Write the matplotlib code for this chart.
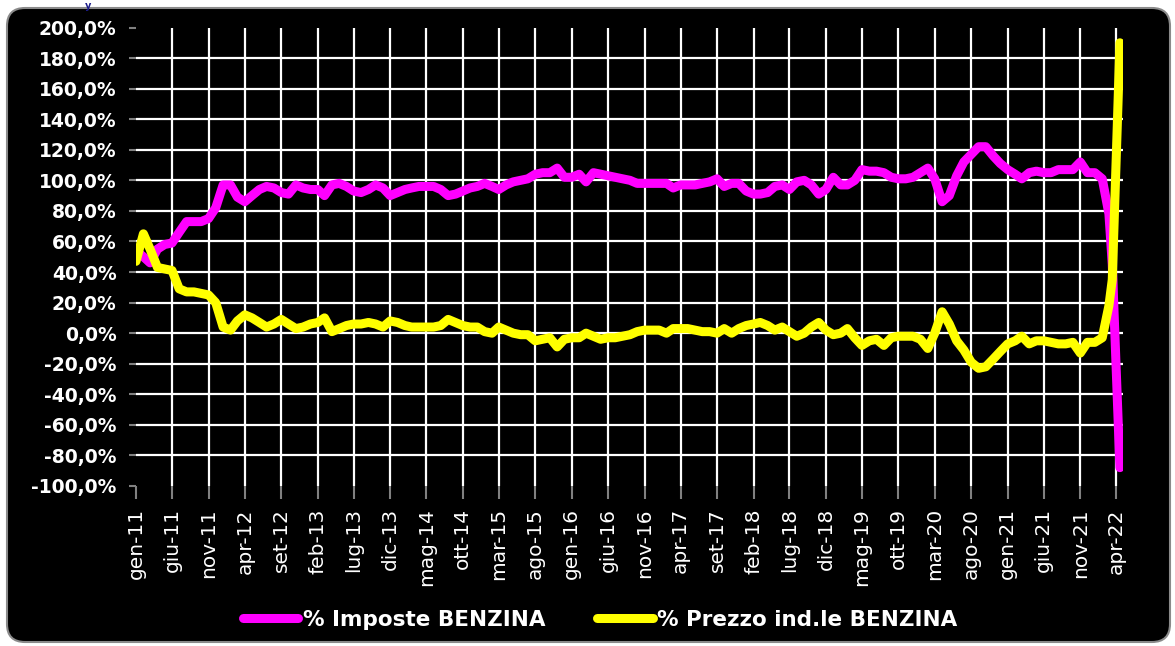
import numpy as np
import pandas as pd
import matplotlib
matplotlib.use('Agg')
import matplotlib.pyplot as plt
from matplotlib.patches import FancyBboxPatch

# --- dati (mensili gen-11 .. mar-22, poi settimane finali) ---
date_mensili = pd.date_range('2011-01-01', '2022-03-01', freq='MS')
date_finali = pd.to_datetime(['2022-03-15', '2022-04-01', '2022-04-08', '2022-04-16'])

imposte = [
    54, 50, 46, 55, 58, 59, 66, 73, 73, 73,
    75, 82, 97, 97, 89, 86, 90, 94, 96, 95,
    92, 91, 97, 95, 94, 94, 90, 97, 98, 96,
    93, 92, 94, 97, 95, 90, 92, 94, 95, 96,
    96, 96, 94, 90, 91, 93, 95, 96, 98, 96,
    94, 97, 99, 100, 101, 104, 105, 105, 108, 102,
    102, 104, 99, 105, 104, 103, 102, 101, 100, 98,
    98, 98, 98, 98, 95, 97, 97, 97, 98, 99,
    101, 96, 98, 98, 93, 91, 91, 92, 96, 97,
    94, 99, 100, 97, 91, 94, 102, 97, 97, 100,
    107, 106, 106, 105, 102, 101, 101, 102, 105, 108,
    101, 86, 90, 103, 112, 117, 122, 122, 116, 111,
    107, 104, 101, 105, 106, 105, 105, 107, 107, 107,
    112, 105, 105, 101, 78,
]
imposte_finali = [45, -25, -55, -88]

prezzo = [
    47, 65, 55, 43, 42, 41, 29, 27, 27, 26,
    25, 20, 4, 2, 8, 12, 10, 7, 4, 6,
    9, 6, 3, 4, 6, 7, 10, 1, 3, 5,
    6, 6, 7, 6, 4, 8, 7, 5, 4, 4,
    4, 4, 5, 9, 7, 5, 4, 4, 1, 0,
    4, 2, 0, -1, -1, -5, -4, -3, -9, -4,
    -3, -3, 0, -2, -4, -3, -3, -2, -1, 1,
    2, 2, 2, 0, 3, 3, 3, 2, 1, 1,
    0, 3, 0, 3, 5, 6, 7, 5, 2, 4,
    1, -2, 0, 4, 7, 2, -1, 0, 3, -3,
    -8, -5, -4, -8, -3, -2, -2, -2, -4, -10,
    0, 14, 6, -5, -11, -19, -23, -22, -17, -12,
    -7, -5, -2, -7, -5, -5, -6, -7, -7, -6,
    -13, -6, -6, -3, 18,
]
prezzo_finali = [35, 115, 150, 190]

mesi = ['gen', 'feb', 'mar', 'apr', 'mag', 'giu', 'lug', 'ago', 'set', 'ott', 'nov', 'dic']
tick_date = pd.date_range('2011-01-01', '2022-04-01', freq='5MS')
tick_labels = [f'{mesi[d.month - 1]}-{d.year % 100:02d}' for d in tick_date]
y_ticks = np.arange(-100, 201, 20)

x = list(date_mensili) + list(date_finali)
y_imp = imposte + imposte_finali
y_prz = prezzo + prezzo_finali

# --- figura ---
fig = plt.figure(figsize=(11.75, 6.46), dpi=100, facecolor='white')
box = FancyBboxPatch((0.07, 0.04), 11.63, 6.34,
                     boxstyle='round,pad=0,rounding_size=0.18',
                     transform=fig.dpi_scale_trans, facecolor='black',
                     edgecolor='#8a8a8a', linewidth=1.5, zorder=-1)
fig.patches.append(box)
# frammento del titolo in alto
fig.text(88 / 1175, 0.999, 'y', color='#1c1c8a', fontsize=7, fontweight='bold',
         ha='center', va='top')

ax = fig.add_axes([136 / 1175, 1 - 486 / 646, (1123 - 136) / 1175, (486 - 27.5) / 646])
ax.set_facecolor('black')

ax.plot(x, y_imp, color='#ff00ff', lw=6.5, solid_capstyle='round',
        solid_joinstyle='round', label='% Imposte BENZINA', zorder=3)
ax.plot(x, y_prz, color='#ffff00', lw=6.5, solid_capstyle='round',
        solid_joinstyle='round', label='% Prezzo ind.le BENZINA', zorder=4)

ax.set_ylim(-100, 200)
ax.set_xlim(pd.Timestamp('2011-01-01'), pd.Timestamp('2022-04-29'))
ax.set_yticks(y_ticks)
ax.set_yticklabels([f'{v:.1f}%'.replace('.', ',') for v in y_ticks])
ax.set_xticks(tick_date)
ax.set_xticklabels(tick_labels)

for s in ax.spines.values():
    s.set_visible(False)

ax.grid(True, color='white', lw=1.6, zorder=1)
ax.set_axisbelow(True)
ygl = ax.get_ygridlines()
ygl[0].set_visible(False)
ygl[-1].set_visible(False)
ax.get_xgridlines()[0].set_visible(False)

ax.tick_params(axis='y', colors='#808080', length=5, width=1.5, pad=9,
               labelcolor='white', labelsize=13.5)
ax.tick_params(axis='x', colors='#808080', length=9, width=1.5, pad=7,
               labelcolor='white', labelsize=14.5, labelrotation=90)
for t in ax.get_yticklabels():
    t.set_fontweight('bold')

leg = fig.legend(loc='center', bbox_to_anchor=(600 / 1175, 1 - 620 / 646), ncol=2,
                 frameon=False, handlelength=2.6, handletextpad=0.2,
                 columnspacing=2.4, prop={'weight': 'bold', 'size': 15.5})
for t in leg.get_texts():
    t.set_color('white')

fig.savefig('out.png', dpi=100, facecolor='white')
